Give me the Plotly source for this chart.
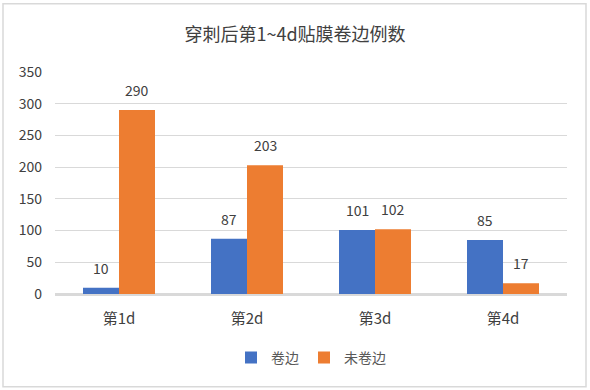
import plotly.graph_objects as go

categories = ["第1d", "第2d", "第3d", "第4d"]
series_names = ["卷边", "未卷边"]
curled = [10, 87, 101, 85]
not_curled = [290, 203, 102, 17]
y_ticks = [0, 50, 100, 150, 200, 250, 300, 350]

colors = ["#4472C4", "#ED7D31"]
font_family = "Noto Sans CJK SC, Microsoft YaHei, sans-serif"

fig = go.Figure()
for name, vals, col in zip(series_names, [curled, not_curled], colors):
    fig.add_trace(go.Bar(x=categories, y=vals, name=name, marker_color=col,
                         marker_line_width=0))

L, R, T, B = 55, 23, 71.5, 96
W, H = 590, 390
pw, ph = W - L - R, H - T - B

offsets = [-18, 18]
for vals, off in zip([curled, not_curled], offsets):
    for c, v in zip(categories, vals):
        fig.add_annotation(x=c, y=v, text=str(v), showarrow=False,
                           xshift=off, yshift=8, yanchor="bottom",
                           font=dict(size=14, color="#404040", family=font_family))

fig.add_shape(type="rect", xref="paper", yref="paper",
              x0=(3 - L) / pw, x1=(586 - L) / pw,
              y0=(H - B - 387) / ph, y1=(H - B - 3) / ph,
              line=dict(color="#D9D9D9", width=1.5), fillcolor="rgba(0,0,0,0)",
              layer="above")

fig.update_layout(
    width=W, height=H,
    margin=dict(l=L, r=R, t=T, b=B),
    paper_bgcolor="white", plot_bgcolor="white",
    title=dict(text="穿刺后第1~4d贴膜卷边例数", x=0.5, xanchor="center",
               y=1 - 35 / H, yanchor="middle",
               font=dict(size=18, color="#404040", family=font_family)),
    barmode="group", bargap=0.4375, bargroupgap=0,
    font=dict(family=font_family, color="#595959", size=14),
    legend=dict(orientation="h", x=0.5, xanchor="center",
                y=(H - B - 358) / ph, yanchor="middle",
                font=dict(size=14, color="#595959"), itemwidth=30,
                traceorder="normal"),
    showlegend=True,
)
fig.update_yaxes(range=[0, 350], tickvals=y_ticks, showgrid=True,
                 gridcolor="#D9D9D9", gridwidth=1, zeroline=True,
                 zerolinecolor="#D9D9D9", zerolinewidth=1.5,
                 tickfont=dict(size=14, color="#404040"), ticks="",
                 ticklabelstandoff=12, showline=False)
fig.update_xaxes(showline=True, linecolor="#D9D9D9", linewidth=1.5, ticks="",
                 ticklabelstandoff=10,
                 tickfont=dict(size=15, color="#404040"))

fig.write_html("out.html", config={"displayModeBar": False},
               post_script="document.body.style.margin='0';document.body.style.overflow='hidden';")
